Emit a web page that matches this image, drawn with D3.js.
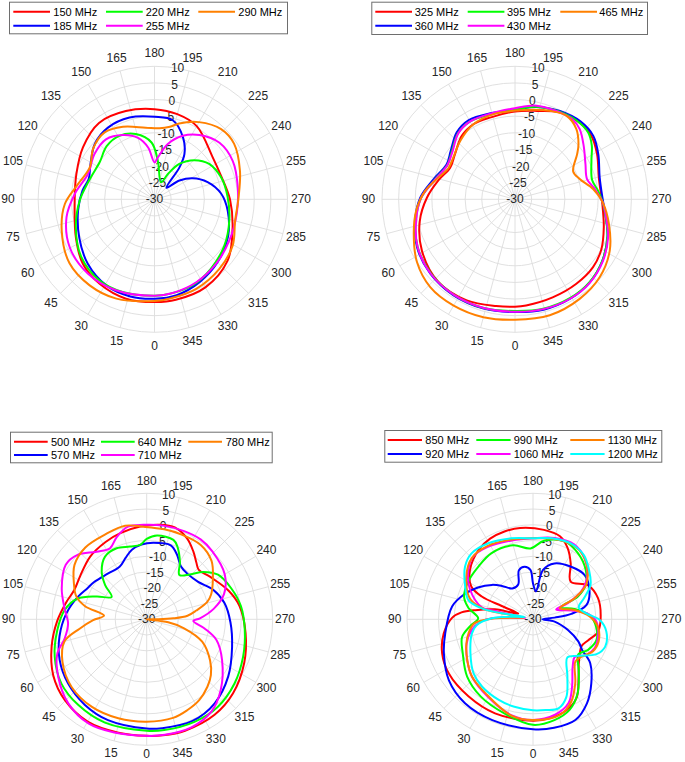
<!DOCTYPE html>
<html><head><meta charset="utf-8">
<script src="https://cdn.jsdelivr.net/npm/d3@7"></script>
<style>body{margin:0;background:#fff;} text{font-family:Arial,"Liberation Sans",sans-serif;}</style>
</head><body><svg id="c" width="685" height="762"></svg>
<script>
// ---- axis ticks ----
const rTicks = [-30,-25,-20,-15,-10,-5,0,5,10];
const thetaTicks = [0,15,30,45,60,75,90,105,120,135,150,165,180,195,210,225,240,255,270,285,300,315,330,345];

// ---- panel 1 : [theta deg, gain dB] ----
const p1Names = ["150 MHz","185 MHz","220 MHz","255 MHz","290 MHz"];
const p1_150 = [[0,0.9],[16,1.1],[33,0.3],[48,-1],[64,-3.7],[90,-6],[108,-5.3],[126,-3.4],[144,-1.6],[162,-2.1],[180,-2.9],[195,-3.5],[210,-4.6],[234,-8.4],[250,-8.8],[270,-7.3],[292,-4.7],[310,-1.3],[330,0.6],[348,0.9]];
const p1_185 = [[0,-0.1],[14,0.1],[29,-0.3],[46,-2.1],[63,-4.6],[82,-6.8],[97,-8.2],[107,-9.3],[119,-8],[133,-5.5],[147,-4.3],[163,-4.3],[180,-5.2],[193,-5.6],[205,-9.6],[213.5,-13.7],[218,-17.8],[226,-25],[233,-20.6],[241,-16.9],[252,-13.2],[265,-9.9],[279,-7.7],[297,-5.2],[315,-3.2],[331,-1.7],[347,-0.4]];
const p1_220 = [[0,-1],[19,-0.5],[34,-0.5],[52,-2],[70.5,-4.9],[89,-7.5],[107,-9.6],[124,-10.1],[138,-8.5],[151,-8.2],[164,-9.6],[177,-12.9],[185,-18.4],[201,-24.5],[208,-21.4],[215,-17],[225.5,-13.2],[237,-10.4],[252,-8.9],[268,-8],[286,-6.6],[303.5,-4.8],[321,-3.1],[336,-1.7],[351,-1.2]];
const p1_255 = [[0,-1],[23,-0.3],[42,0],[60.5,-0.7],[78.5,-3],[94,-6],[111,-8.6],[127,-7.4],[141,-6.8],[154,-8.5],[165,-10.9],[173,-14.3],[180,-18.9],[184.5,-17.4],[193.5,-12.9],[204,-9.1],[215,-6.4],[229,-4.1],[244,-3.8],[262,-4.7],[280,-4.9],[299,-4.3],[316,-3.2],[333,-2.1],[349,-1.3]];
const p1_290 = [[0,0.6],[21,2],[37,2.4],[53,2],[71,-0.5],[87,-3],[101,-6.5],[116,-8.3],[130,-6],[143,-4.9],[156.5,-6.2],[173,-8.3],[184,-8.6],[192,-7.7],[198,-6],[210,-3.2],[223.5,-0.9],[235,-0.8],[251.5,-2.9],[268.5,-4.7],[285,-4.9],[300.5,-2.7],[317,-1.4],[335,-0.3],[351,0.2]];

// ---- panel 2 ----
const p2Names = ["325 MHz","360 MHz","395 MHz","430 MHz","465 MHz"];
const p2_325 = [[0,2.3],[10,2.6],[25.5,3.7],[43,3.9],[61,2],[77,-0.6],[91,-3.5],[104,-6.3],[116,-8.3],[127,-7.4],[140,-5.1],[151,-4.2],[163,-4.3],[180,-3.6],[194,-2.6],[207,-0.6],[219,0.1],[230,-0.1],[241,-1.8],[256,-4],[273,-3.7],[287.5,-2],[300,0],[311,1.1],[324,1.4],[339,1.6],[354,2.1]];
const p2_360 = [[0,3.9],[16,4.2],[32.6,4.3],[48.7,3.9],[64,2.8],[78,0.7],[91,-1.5],[104,-4.8],[117,-6.9],[127,-5.8],[139,-3.3],[149.5,-2.4],[164,-3.1],[180,-3.2],[189,-2],[197,-1.1],[207,-0.2],[220,0.6],[231,0.3],[241.5,-1.5],[255.5,-3.7],[269,-3.7],[281,-2.2],[292,0],[305,2.1],[318,3.6],[331,4.2],[345.6,4.3]];
const p2_395 = [[0,3.6],[16,4],[32.6,4.1],[48.7,3.7],[64,2.6],[78,0.5],[91,-1.8],[104,-5.2],[117,-7.2],[127,-6.2],[139,-3.8],[149.5,-3],[164,-3.4],[180,-3.1],[190,-1.8],[197,-1.1],[207,-0.4],[218,0.1],[227.6,-0.2],[235,-1.8],[243,-4.2],[256,-6.1],[264,-4.9],[272,-3.6],[281,-2.2],[292,0],[305,2.1],[318,3.5],[331,4],[345.6,4]];
const p2_430 = [[0,3.8],[16,4],[32.6,4.1],[48.7,3.8],[64,2.6],[78,0.4],[91,-1.8],[104,-5.3],[117,-7.2],[127,-6.4],[139,-3.9],[149.5,-3],[164,-3.2],[180,-2.6],[193,-1.1],[207,-0.6],[216,-0.4],[222.7,-1.3],[232,-3.8],[243.4,-6.3],[254.3,-7.5],[262.6,-5.8],[272,-3.6],[281,-2.1],[292,0.2],[305,2.3],[318,3.7],[331,4.2],[345.6,4.1]];
const p2_465 = [[0,6.2],[15,6.7],[30,6.9],[44,6.7],[57.4,5],[71,2.2],[83.5,-0.1],[95.5,-2.9],[106,-6.1],[115,-7.9],[124,-7.6],[137,-5.9],[151,-4.2],[166,-3.6],[183,-3.2],[191.6,-2.5],[201.5,-1.4],[211.7,-0.5],[221,-1.9],[229,-4.7],[234,-6.9],[244.4,-10.6],[252.6,-9.6],[262.5,-6.3],[272,-3.6],[284.7,-0.8],[298.4,2.4],[312.5,4.6],[327,5.7],[343.3,6.4]];

// ---- panel 3 ----
const p3Names = ["500 MHz","570 MHz","640 MHz","710 MHz","780 MHz"];
const p3_500 = [[0,7],[14,7.1],[30,7.5],[45.5,6.5],[59,4.6],[74,1.4],[89,-1.6],[102,-3.9],[112,-5.2],[123,-4.8],[138,-3.2],[152,-2.2],[163,-1.4],[176,-0.5],[188,0.3],[197,0.5],[206.5,-1.3],[214.6,-3.9],[221,-6],[226.5,-7.2],[236,-5.8],[251,-2.4],[262,-0.2],[278,1.7],[294,3.9],[310.6,6.1],[324.6,7.2],[341,7.4],[352,7.2]];
const p3_570 = [[0,4.7],[21,4.3],[36,3.5],[51,2.2],[65,0.5],[79,-1.8],[94,-4.4],[108,-7],[118,-8.8],[125,-9.5],[140,-11],[153,-11.2],[161,-9.4],[168,-7.4],[176,-6.2],[185,-5.6],[198,-5.3],[205,-7.3],[213,-10],[222,-10.6],[234,-9.8],[246,-6.9],[258,-4.8],[272,-3.4],[288,-1.5],[305,1.6],[321,4.3],[336,5.4],[352,4.9]];
const p3_640 = [[0,5.4],[22,5.4],[38.7,4.8],[53,3.9],[68,1.5],[83,-1.4],[96.5,-3.8],[106.5,-7],[114.5,-12.5],[122.5,-16.8],[129.5,-12.9],[136.6,-9.2],[146.4,-6.1],[157,-5.5],[167,-6.3],[175,-6.3],[180,-4.5],[187,-3.2],[198.6,-3.4],[203,-5],[210,-8.9],[216.4,-12.5],[224,-10.2],[230,-6.6],[238,-3.3],[250,-1.4],[262,0.2],[276,1.3],[291,2.8],[306,4.5],[321,5.8],[335,5.9],[351,5.6]];
const p3_710 = [[0,7],[16,7.4],[29,7.9],[43,6.5],[57,3.5],[69,0.4],[77,-3.3],[87,-5],[98,-3.6],[110,-1.3],[124,1],[133,0],[143.5,-3.3],[152.7,-4.6],[160,-2.2],[168.6,0],[178,0],[190,0.2],[203,0.4],[214,0.6],[224,0],[240,-1.4],[252,-4.2],[261,-8.4],[269,-13.1],[272,-15.2],[279,-11.4],[286.5,-6.9],[298.4,-2.8],[313.7,2.5],[325,5.8],[337.5,7.1],[351,7.1]];
const p3_780 = [[0,2.5],[16,2.7],[32,2.8],[48,2.1],[63,0],[75,-3],[82,-8.5],[89,-13],[95,-16.4],[102,-10],[108,-6.5],[116,-4.3],[127,-1.3],[139.5,0],[154,0],[167,0.5],[178,-0.6],[191,-0.9],[202,-0.9],[216,-0.8],[228,-2.3],[239,-5.5],[249,-8.1],[254,-10],[260,-14],[265,-17],[268,-21.5],[270,-26.4],[273,-30],[278,-23.1],[283.5,-17.8],[292,-11],[303,-6],[311,-3],[318,-1.2],[327,0.6],[336,1.6],[345,2.4]];

// ---- panel 4 ----
const p4Names = ["850 MHz","920 MHz","990 MHz","1060 MHz","1130 MHz","1200 MHz"];
const p4_850 = [[0,2.2],[22,2.2],[40,1.9],[57,1.8],[69.5,0.8],[81,-1.3],[91,-4.3],[95.5,-7.2],[99,-11.4],[104.7,-17.5],[111,-25],[113,-19.2],[114,-12.2],[118,-7.8],[128,-4.6],[142,-2],[152,-1],[162,-0.7],[172,-0.7],[187,-1.4],[198,-2.3],[206,-4.9],[214,-8.6],[225,-13.1],[238,-9.5],[252,-8.3],[268,-8.5],[281,-9],[291,-11.3],[299,-12.4],[309,-11],[315,-9.5],[322,-6.5],[331,-1.5],[340,0.8],[350,1.8]];
const p4_920 = [[0,4.9],[22,4.5],[39,4.3],[54,3],[69,0.3],[81,-1.8],[99,-4],[110,-6.8],[120,-9.8],[130,-13],[137,-15.5],[146,-18.2],[157,-18],[164,-13.8],[171,-13.1],[177,-14.3],[180,-18.6],[186,-21.1],[191.5,-14],[201,-11],[216,-9.4],[229.4,-8.4],[242.6,-9.8],[255,-12.4],[262,-17.7],[265.6,-23.1],[270,-27],[276,-23.1],[287,-18.4],[296,-14],[302,-11.6],[307.5,-7.1],[317.7,-2.5],[327.3,1.7],[337.2,4.7],[349,5.1]];
const p4_990 = [[0,3.5],[17,1.2],[34,-0.4],[49,-2.3],[64,-5.2],[76,-6.8],[84,-10],[91,-12.6],[100,-9.2],[108,-7],[120,-6.2],[134,-5.9],[148,-5.2],[165,-5.7],[178,-7.5],[188,-4.8],[202,-3.3],[214,-4.6],[227,-7.1],[237,-10.1],[243,-14],[247,-20.3],[256,-16.4],[266,-12],[277,-9.8],[288,-8.8],[299,-10],[308,-11.8],[318,-8.3],[329,-2.5],[338,1],[348,2.7]];
const p4_1060 = [[0,2],[12,1.3],[30,-1.5],[46.7,-3.4],[58,-5.4],[70,-7.6],[80,-10.2],[87.4,-13.4],[92,-17.6],[95.5,-25.5],[100,-27.5],[101.5,-24.2],[102.5,-18.7],[103.2,-13.3],[115,-8],[125,-4.8],[136,-2.5],[148,-2.9],[165,-4.1],[180,-4.3],[195,-3.3],[209,-2.9],[220,-4.6],[231,-7.8],[240,-12.3],[245,-17.8],[247,-22],[257,-17.5],[264.5,-12.4],[272,-9.9],[283.6,-8.7],[295,-8.4],[304,-9.7],[312,-12.1],[320,-10.4],[330,-5.2],[337,-1.1],[347,1.1]];
const p4_1130 = [[0,2],[13,1.3],[32.8,-2.1],[46.7,-3.4],[58,-5.4],[70,-7.5],[78,-9.1],[86,-11.3],[91,-17],[95,-24],[100,-27],[101,-21],[102,-14],[108,-9],[122,-5],[135,-2.5],[148,-2.6],[165,-3.8],[180,-4.3],[195,-3.6],[209,-3.3],[218,-4.2],[228,-6.7],[237,-9.9],[243,-15.2],[247.6,-20.8],[257.4,-16.5],[267,-12],[276.4,-9.3],[289,-8],[298,-8.4],[308,-10.6],[315,-11],[326.5,-5.7],[335,-1.2],[344,1.5]];
const p4_1200 = [[0,-1.1],[12,-1.6],[23,-2.2],[37,-3.2],[47.7,-4.5],[61.5,-7.4],[77,-10.1],[84,-12],[91.4,-16.9],[98.4,-24.2],[106,-27.3],[101,-19.9],[102,-13.4],[106.6,-8.6],[115.7,-6.1],[127.8,-2.7],[137,-1.4],[149.6,-2],[165,-3.4],[180,-4.3],[193,-3.6],[207,-3.1],[218.4,-4],[228.6,-6.3],[239,-8.7],[247.6,-12.5],[255.3,-15],[263.6,-13],[270.6,-8.8],[279.5,-6.4],[290.7,-5.5],[298.7,-7],[309,-11.6],[318,-13.7],[329,-8.8],[336.7,-3.2],[344,-0.6],[352,-0.9]];

const colors6 = ["#ff0000","#0000ff","#00ff00","#ff00ff","#ff8000","#00ffff"];

const panels = [
  {cx:154.5, cy:199.3, R:133, lab:13.5, names:p1Names, data:[p1_150,p1_185,p1_220,p1_255,p1_290],
   lg:{x:9, y:1.7, w:278, h:31.6, lx:[4.3,97,189.3], tx:[44.3,136.7,229.3], ry:[10,24], len:36.7}},
  {cx:515, cy:199.3, R:133, lab:13.5, names:p2Names, data:[p2_325,p2_360,p2_395,p2_430,p2_465],
   lg:{x:371.3, y:1.7, w:275.7, h:32.3, lx:[4,96.4,189], tx:[43.4,135.7,228], ry:[10,24], len:36.7}},
  {cx:146.7, cy:619.3, R:126, lab:12.3, names:p3Names, data:[p3_500,p3_570,p3_640,p3_710,p3_780],
   lg:{x:10, y:431.7, w:261.7, h:30.6, lx:[4,91,178.3], tx:[41,127.7,215.7], ry:[10,23.3], len:33.7}},
  {cx:533, cy:619.3, R:126, lab:12.3, names:p4Names, data:[p4_850,p4_920,p4_990,p4_1060,p4_1130,p4_1200],
   lg:{x:384.3, y:430, w:277, h:31.7, lx:[3.4,92,186], tx:[41,129.4,223.4], ry:[10,24], len:34.3}}
];

const svg = d3.select("#c");
const rad = d => d*Math.PI/180;

panels.forEach(p => {
  const g = svg.append("g").attr("transform", `translate(${p.cx},${p.cy})`);
  const r = d3.scaleLinear().domain([-30,10]).range([0,p.R]).clamp(true);
  g.selectAll("circle.ring").data(rTicks.filter(t=>t>-30)).join("circle")
    .attr("r", d=>r(d)).attr("fill","none").attr("stroke","#dcdcdc").attr("stroke-width",0.9);
  g.selectAll("line.spk").data(thetaTicks).join("line")
    .attr("x1",0).attr("y1",0)
    .attr("x2",d=>-p.R*Math.sin(rad(d))).attr("y2",d=>p.R*Math.cos(rad(d)))
    .attr("stroke","#dcdcdc").attr("stroke-width",0.9);
  // theta labels (kept inside the page at the bottom edge)
  const maxY = 754 - p.cy;
  g.selectAll("text.th").data(thetaTicks).join("text")
    .attr("x",d=>-(p.R+p.lab)*Math.sin(rad(d)))
    .attr("y",d=>Math.min((p.R+p.lab)*Math.cos(rad(d)), maxY))
    .attr("text-anchor","middle").attr("dominant-baseline","central")
    .attr("font-size",12).attr("fill","#262626").text(d=>d);
  g.selectAll("text.rl").data(rTicks).join("text")
    .attr("x",d=>-r(d)*Math.sin(rad(190))).attr("y",d=>r(d)*Math.cos(rad(190)))
    .attr("text-anchor","middle").attr("dominant-baseline","central")
    .attr("font-size",12).attr("fill","#262626").text(d=>d);
  const line = d3.lineRadial()
    .angle(d=>rad(d[0]+180)).radius(d=>r(d[1]))
    .curve(d3.curveCatmullRomClosed.alpha(0.5));
  p.data.forEach((s,i) => {
    g.append("path").attr("d", line(s)).attr("fill","none")
      .attr("stroke", colors6[i]).attr("stroke-width",2).attr("stroke-linejoin","round");
  });
  const L = p.lg;
  const lg = svg.append("g").attr("transform",`translate(${L.x},${L.y})`);
  lg.append("rect").attr("x",0.5).attr("y",0.5).attr("width",L.w).attr("height",L.h)
    .attr("fill","#fff").attr("stroke","#6e6e6e").attr("stroke-width",1);
  p.names.forEach((n,i) => {
    const col = Math.floor(i/2), row = i%2;
    const y = L.ry[row];
    lg.append("line").attr("x1",L.lx[col]).attr("x2",L.lx[col]+L.len).attr("y1",y).attr("y2",y)
      .attr("stroke",colors6[i]).attr("stroke-width",2);
    lg.append("text").attr("x",L.tx[col]).attr("y",y).attr("dominant-baseline","central")
      .attr("font-size",11).attr("fill","#000").text(n);
  });
});
</script></body></html>
